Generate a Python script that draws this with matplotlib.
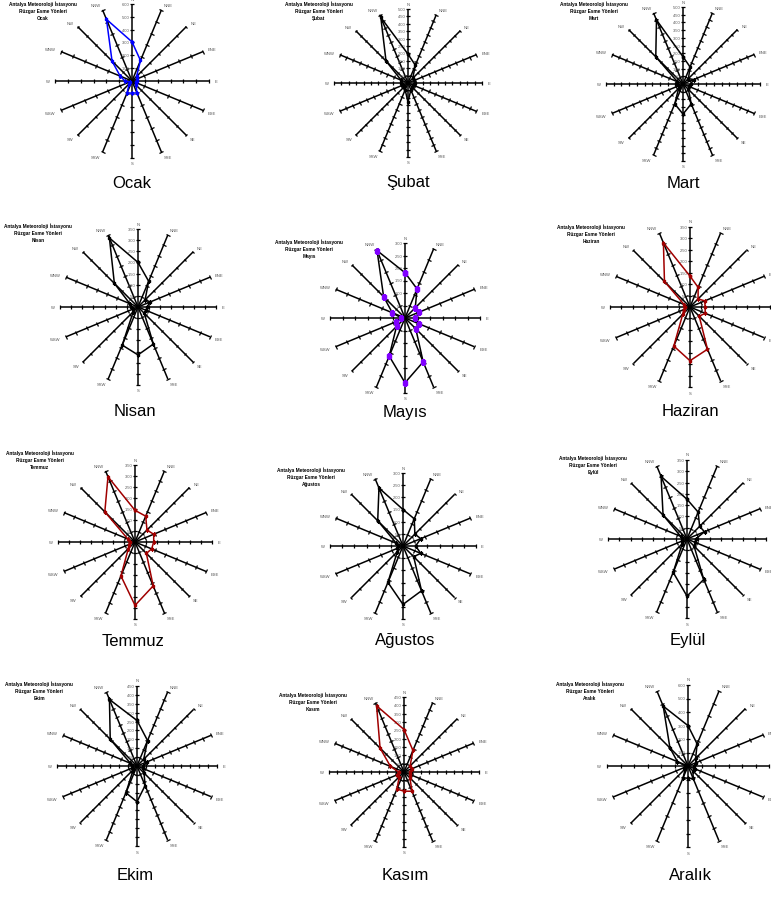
import numpy as np
import matplotlib.pyplot as plt
from matplotlib.markers import MarkerStyle
from matplotlib.transforms import Affine2D

plt.rcParams['font.family'] = ['Liberation Sans', 'DejaVu Sans']

# yön ve ay verileri ==========================================================
yonler = ["N", "NNE", "NE", "ENE", "E", "ESE", "SE", "SSE",
          "S", "SSW", "SW", "WSW", "W", "WNW", "NW", "NNW"]
aylar = ["Ocak", "Şubat", "Mart", "Nisan", "Mayıs", "Haziran",
         "Temmuz", "Ağustos", "Eylül", "Ekim", "Kasım", "Aralık"]

ocak    = [305, 173, 50, 40, 40, 30, 45, 100, 95, 100, 30, 20, 55, 100, 220, 520]
subat   = [195, 130, 45, 45, 45, 40, 40, 50, 130, 50, 35, 35, 45, 50, 210, 480]
mart    = [177, 120, 50, 75, 50, 40, 50, 140, 195, 140, 40, 30, 40, 40, 250, 450]
nisan   = [200, 125, 45, 60, 40, 40, 40, 180, 215, 185, 30, 25, 30, 40, 150, 335]
mayis   = [181, 126, 58, 62, 39, 61, 61, 190, 259, 165, 48, 41, 15, 55, 121, 292]
haziran = [135, 93, 50, 70, 66, 72, 57, 200, 235, 185, 45, 30, 23, 28, 158, 304]
temmuz  = [144, 127, 77, 92, 85, 82, 73, 216, 288, 167, 43, 30, 25, 35, 194, 321]
agustos = [150, 121, 69, 79, 52, 79, 62, 199, 240, 162, 33, 25, 20, 30, 147, 258]
eylul   = [176, 129, 79, 84, 38, 40, 44, 194, 253, 160, 30, 25, 20, 30, 150, 300]
ekim    = [256, 155, 53, 58, 36, 35, 56, 119, 201, 163, 30, 30, 30, 40, 213, 405]
kasim   = [255, 140, 52, 54, 34, 40, 50, 125, 115, 111, 40, 45, 32, 88, 203, 430]
aralik  = [299, 177, 80, 62, 45, 54, 52, 100, 91, 94, 30, 30, 20, 85, 189, 480]

veriler = [ocak, subat, mart, nisan, mayis, haziran,
           temmuz, agustos, eylul, ekim, kasim, aralik]
eksen_max = [600, 500, 500, 350, 300, 350, 350, 300, 350, 450, 450, 600]
eksen_adim = [100, 50, 50, 50, 50, 50, 50, 50, 50, 50, 50, 100]

# çizim düzeni (piksel) =======================================================
W, H = 771, 920
merkez = [(132, 82), (408, 84), (683, 85),
          (138, 308), (405, 319), (690, 308),
          (135, 543), (403, 547), (687, 540),
          (137, 767), (404, 773), (688, 767)]
yaricap = [77, 74, 77, 78, 75, 80, 77, 73, 79, 80, 75, 81]
# başlığın orta satırı
baslik_xy = [(43, 11), (319, 11), (594, 11),
             (38, 233), (309, 249), (591, 234),
             (40, 460), (311, 477), (593, 465),
             (39, 691), (313, 702), (590, 691)]
ay_xy = [(132, 183), (408, 183), (683, 183),
         (135, 412), (405, 412), (690, 412),
         (133, 641), (405, 641), (688, 641),
         (135, 876), (405, 876), (690, 876)]
renk = ["#0000FF", "black", "black", "black", "black", "#A00000",
        "#A00000", "black", "black", "black", "#A00000", "black"]
isaret_renk = ["#0000FF", "black", "black", "black", "#8000FF", "#A00000",
               "#A00000", "black", "black", "black", "#A00000", "black"]
isaret_boy = [1.8, 1.5, 1.5, 1.5, 2.4, 2.0, 2.0, 1.5, 1.5, 1.5, 2.0, 1.5]

fig = plt.figure(figsize=(W / 100, H / 100), dpi=100)

aci = np.arange(16) * 2 * np.pi / 16

for i in range(12):
    cx, cy = merkez[i]
    R = yaricap[i]
    ax = fig.add_axes([(cx - R) / W, 1 - (cy + R) / H, 2 * R / W, 2 * R / H],
                      projection='polar')
    ax.set_theta_zero_location('N')
    ax.set_theta_direction(-1)
    ax.set_ylim(0, eksen_max[i])
    ax.axis('off')

    mx = eksen_max[i]
    adim = eksen_adim[i]
    tikler = np.arange(adim, mx + 1, adim)
    for k in range(16):
        th = aci[k]
        ax.plot([th, th], [0, mx], color='black', lw=1.1, zorder=2)
        m = MarkerStyle('_', transform=Affine2D().rotate_deg(-np.degrees(th)))
        ax.plot(np.full(len(tikler), th), tikler, ls='none', marker=m,
                ms=2.6, mew=0.9, color='black', zorder=2, clip_on=False)
        s = np.sin(th)
        ha = 'center' if abs(s) < 0.1 else ('left' if s > 0 else 'right')
        ax.text(th, mx * 1.07, yonler[k], fontsize=3, color='#555555',
                ha=ha, va='center')
    for t in tikler:
        ax.text(0, t, "%d" % t + "   ", fontsize=3, color='#555555',
                ha='right', va='center')

    d = veriler[i] + veriler[i][:1]
    th_d = np.append(aci, aci[0])
    ax.plot(th_d, d, color=renk[i], lw=1.1, zorder=3, marker='s',
            ms=isaret_boy[i], mfc=isaret_renk[i], mec=isaret_renk[i])

    bx, by = baslik_xy[i]
    fig.text(bx / W, 1 - by / H,
             "Antalya Meteoroloji İstasyonu\nRüzgar Esme Yönleri\n" + aylar[i],
             fontsize=3.4, fontweight='bold', ha='center', va='center',
             linespacing=1.5)
    ax_, ay_ = ay_xy[i]
    fig.text(ax_ / W, 1 - ay_ / H, aylar[i], fontsize=12, ha='center',
             va='center')

plt.savefig("out.png", dpi=100)
